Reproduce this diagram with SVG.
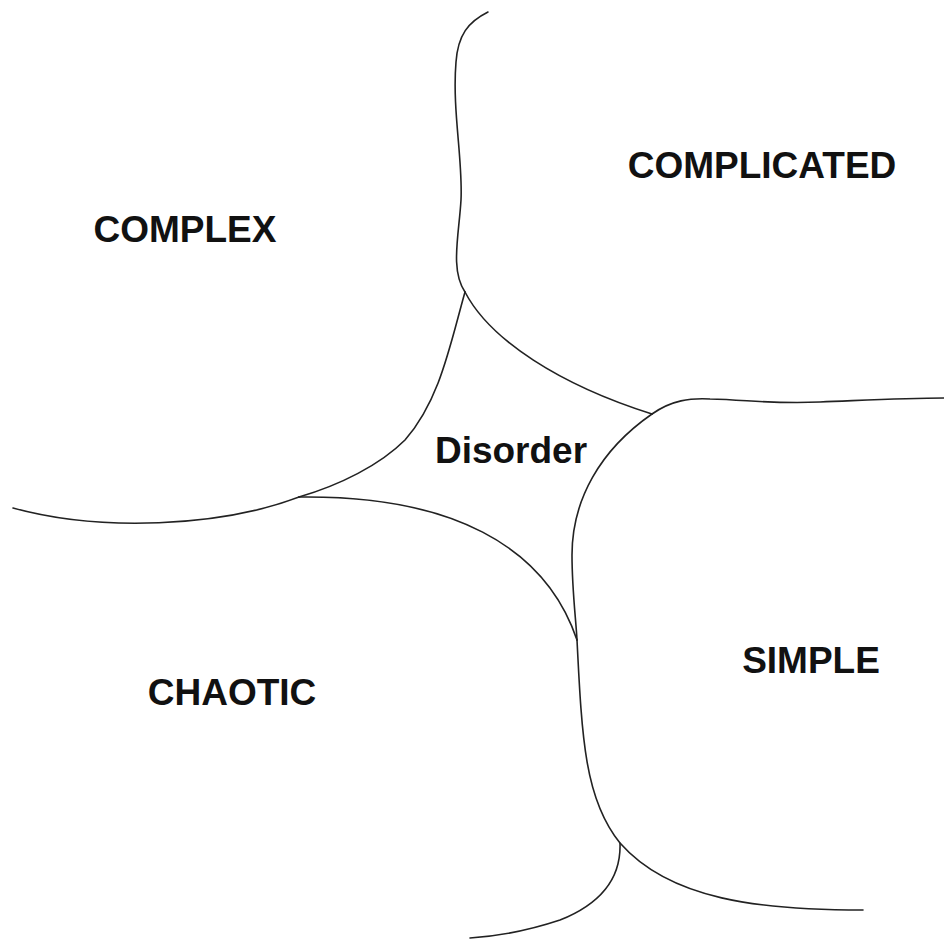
<svg xmlns="http://www.w3.org/2000/svg" width="944" height="939" viewBox="0 0 944 939">
<style>
.b{fill:none;stroke:#222;stroke-width:1.6;stroke-linecap:round;stroke-linejoin:round}
.t{font-family:"Liberation Sans",Arial,sans-serif;font-weight:bold;font-size:37px;fill:#111;text-anchor:middle}
</style>
<rect width="944" height="939" fill="#fff"/>
<g id="connectors">
<path class="b" d="M488,12 C468,22 458,35 456,62 C452,110 463,160 461,200 C459,235 450,270 465,292"/>
<path class="b" d="M465,292 C450,345 440,400 405,440 C380,465 340,485 299,497"/>
<path class="b" d="M299,497 C220,527 100,532 13,508"/>
<path class="b" d="M465,292 C490,340 560,385 652,414"/>
<path class="b" d="M652,414 C672,400 690,398 710,399 C750,400 770,404 820,402 C870,400 905,398 944,398"/>
<path class="b" d="M652,414 C600,450 572,500 572,555 C572,590 576,620 577,640"/>
<path class="b" d="M299,497 C450,495 545,545 577,640"/>
<path class="b" d="M577,640 C582,740 585,800 620,843 C670,900 760,910 863,910"/>
<path class="b" d="M620,843 C621,870 610,900 560,920 C530,930 500,936 470,938"/>
</g>
<g id="complex"><text class="t" x="185" y="242">COMPLEX</text></g>
<g id="complicated"><text class="t" x="762" y="178">COMPLICATED</text></g>
<g id="disorder"><text class="t" x="511" y="463">Disorder</text></g>
<g id="chaotic"><text class="t" x="232" y="705">CHAOTIC</text></g>
<g id="simple"><text class="t" x="811" y="673">SIMPLE</text></g>
</svg>
